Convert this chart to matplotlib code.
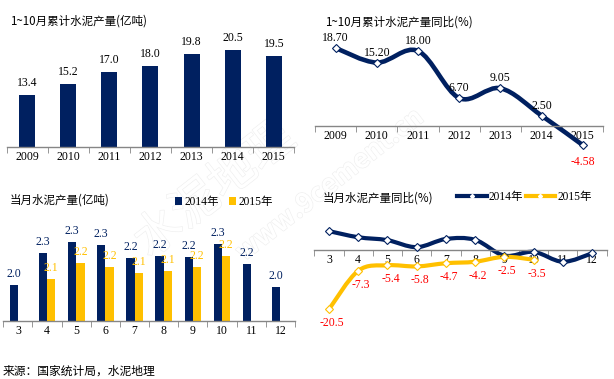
import matplotlib
matplotlib.use("Agg")
import matplotlib.pyplot as plt
import matplotlib.patheffects as pe
from matplotlib.path import Path
from matplotlib.patches import PathPatch
from matplotlib.lines import Line2D

plt.rcParams['font.family'] = ['Noto Sans CJK SC', 'DejaVu Sans']

# 1~10月累计
years = ["2009", "2010", "2011", "2012", "2013", "2014", "2015"]
cum_output = [13.4, 15.2, 17.0, 18.0, 19.8, 20.5, 19.5]
cum_yoy = [18.70, 15.20, 18.00, 6.70, 9.05, 2.50, -4.58]

# 当月
months = ["3", "4", "5", "6", "7", "8", "9", "10", "11", "12"]
month_2014 = [2.02, 2.26, 2.34, 2.32, 2.22, 2.24, 2.23, 2.33, 2.18, 2.01]
month_2015 = [None, 2.07, 2.19, 2.16, 2.11, 2.13, 2.16, 2.24]
yoy_2014 = [6.3, 4.2, 3.2, 0.8, 3.6, 3.3, -2.1, -0.8, -4.2, -1.3]
yoy_2015 = [-20.5, -7.3, -5.4, -5.8, -4.7, -4.2, -2.5, -3.5]

NAVY = '#002060'
GOLD = '#FFC000'
AXIS = '#868686'
SERIF = ['Liberation Serif', 'Noto Sans CJK SC']

W, H = 614, 379
fig = plt.figure(figsize=(W / 100, H / 100), dpi=100)


def box(x0, y0, x1, y1):
    # pixel box, origin top-left
    ax = fig.add_axes([x0 / W, 1 - y1 / H, (x1 - x0) / W, (y1 - y0) / H])
    ax.patch.set_alpha(0)
    return ax


def style(ax, labels, at_zero=False):
    n = len(labels)
    for s in ['top', 'right', 'left']:
        ax.spines[s].set_visible(False)
    if at_zero:
        ax.spines['bottom'].set_position(('data', 0))
    ax.spines['bottom'].set_color(AXIS)
    ax.spines['bottom'].set_linewidth(1)
    ax.set_xlim(-0.5, n - 0.5)
    ax.set_yticks([])
    ax.set_xticks(range(n))
    ax.set_xticklabels(labels, family=SERIF, fontsize=8.5)
    ax.set_xticks([i - 0.5 for i in range(n + 1)], minor=True)
    ax.tick_params(axis='x', which='major', length=0, pad=3)
    ax.tick_params(axis='x', which='minor', length=4, color=AXIS, direction='out')


def smooth_line(ax, x, y, color, lw):
    # excel-like smoothed line: cubic bezier through the points
    pts = list(zip(x, y))
    verts = [pts[0]]
    codes = [Path.MOVETO]
    for i in range(len(pts) - 1):
        p0 = pts[max(i - 1, 0)]
        p1 = pts[i]
        p2 = pts[i + 1]
        p3 = pts[min(i + 2, len(pts) - 1)]
        c1 = (p1[0] + (p2[0] - p0[0]) / 6, p1[1] + (p2[1] - p0[1]) / 6)
        c2 = (p2[0] - (p3[0] - p1[0]) / 6, p2[1] - (p3[1] - p1[1]) / 6)
        verts += [c1, c2, p2]
        codes += [Path.CURVE4] * 3
    ax.add_patch(PathPatch(Path(verts, codes), fill=False, edgecolor=color,
                           lw=lw, capstyle='round', joinstyle='round', zorder=2))


# watermark
wm = [pe.withStroke(linewidth=0.9, foreground='#efefef')]
fig.text(215 / W, 1 - 190 / H, "水泥地理", fontsize=34, rotation=38, color='white',
         ha='center', va='center', path_effects=wm, zorder=-1)
fig.text(330 / W, 1 - 185 / H, "www.9cement.cn", fontsize=19, rotation=38, color='white',
         ha='center', va='center', fontweight='bold', path_effects=wm, zorder=-1)

# ---- top left: cumulative output bars
ax1 = box(6.5, 30, 294.4, 146.7)
ax1.bar(range(len(years)), cum_output, width=0.39, color=NAVY)
ax1.set_ylim(5.25, 5.25 + (146.7 - 30) / 6.34)
style(ax1, years)
for i, v in enumerate(cum_output):
    ax1.annotate(f"{v:.1f}", (i, v), xytext=(0, 6), textcoords='offset pixels',
                 ha='center', va='bottom', family=SERIF, fontsize=8.5)
fig.text(10 / W, 1 - 21 / H, "1~10月累计水泥产量(亿吨)", fontsize=8.3, va='center')

# ---- top right: cumulative yoy line
ax2 = box(315.1, 30, 603.3, 150)
ax2.set_ylim(-24 / 4.17, 96 / 4.17)
style(ax2, years, at_zero=True)
xs = list(range(len(years)))
smooth_line(ax2, xs, cum_yoy, NAVY, 3.3)
ax2.plot(xs, cum_yoy, ls='none', marker='D', ms=4, mfc='white', mec=NAVY, mew=0.8, zorder=3)
for i, v in enumerate(cum_yoy):
    if v < 0:
        ax2.annotate(f"{v:.2f}", (i, v), xytext=(0, -11), textcoords='offset pixels',
                     ha='center', va='top', family=SERIF, fontsize=8.5, color='red')
    else:
        ax2.annotate(f"{v:.2f}", (i, v), xytext=(0, 4), textcoords='offset pixels',
                     ha='center', va='bottom', family=SERIF, fontsize=8.5)
fig.text(325 / W, 1 - 22 / H, "1~10月累计水泥产量同比(%)", fontsize=8.3, va='center')

# ---- bottom left: monthly output bars
ax3 = box(3.3, 215, 295, 321)
ax3.set_ylim(1.757, 1.757 + 106 / 135)
style(ax3, months)
bw = 0.285
b14 = ax3.bar([i - bw / 2 for i in range(len(months))], month_2014, width=bw, color=NAVY, label='2014年')
x15 = [i + bw / 2 for i, v in enumerate(month_2015) if v is not None]
v15 = [v for v in month_2015 if v is not None]
b15 = ax3.bar(x15, v15, width=bw, color=GOLD, label='2015年')
for i, v in enumerate(month_2014):
    ax3.annotate(f"{v:.1f}", (i - bw / 2, v), xytext=(0, 5), textcoords='offset pixels',
                 ha='center', va='bottom', family=SERIF, fontsize=8.5, color=NAVY)
for x, v in zip(x15, v15):
    ax3.annotate(f"{v:.1f}", (x, v), xytext=(0, 5), textcoords='offset pixels',
                 ha='center', va='bottom', family=SERIF, fontsize=8.5, color=GOLD)
fig.text(10 / W, 1 - 200 / H, "当月水泥产量(亿吨)", fontsize=8.3, va='center')
fig.legend(handles=[b14, b15], loc='center left', bbox_to_anchor=(175 / W, 1 - 202 / H),
           ncol=2, frameon=False, prop={'family': SERIF, 'size': 8.3},
           handlelength=0.6, handleheight=0.6, handletextpad=0.2, columnspacing=0.9,
           borderpad=0, borderaxespad=0)

# ---- bottom right: monthly yoy lines
ax4 = box(314.3, 215, 606.7, 330)
ax4.set_ylim(-80.5 / 2.92, 34.5 / 2.92)
style(ax4, months, at_zero=True)
x14 = list(range(len(yoy_2014)))
x15 = list(range(len(yoy_2015)))
smooth_line(ax4, x14, yoy_2014, NAVY, 3)
smooth_line(ax4, x15, yoy_2015, GOLD, 3)
ax4.plot(x14, yoy_2014, ls='none', marker='D', ms=4, mfc='white', mec=NAVY, mew=0.8, zorder=3)
ax4.plot(x15, yoy_2015, ls='none', marker='D', ms=4, mfc='white', mec=GOLD, mew=0.8, zorder=3)
for i, v in enumerate(yoy_2015):
    ax4.annotate(f"{v:.1f}", (i, v), xytext=(3, -8), textcoords='offset pixels',
                 ha='center', va='top', family=SERIF, fontsize=8.5, color='red')
fig.text(323 / W, 1 - 198 / H, "当月水泥产量同比(%)", fontsize=8.3, va='center')
h14 = Line2D([], [], color=NAVY, lw=3, marker='D', ms=2, mfc='white', mec='white')
h15 = Line2D([], [], color=GOLD, lw=3, marker='D', ms=2, mfc='white', mec='white')
fig.legend(handles=[h14, h15], labels=['2014年', '2015年'], loc='center left',
           bbox_to_anchor=(457 / W, 1 - 197 / H), ncol=2, frameon=False,
           prop={'family': SERIF, 'size': 8.3}, handlelength=2.6, handletextpad=0.15,
           columnspacing=0.2, borderpad=0, borderaxespad=0)

fig.text(3 / W, 1 - 371 / H, "来源：国家统计局，水泥地理", fontsize=8.5, va='center')

fig.savefig("out.png", dpi=100)
